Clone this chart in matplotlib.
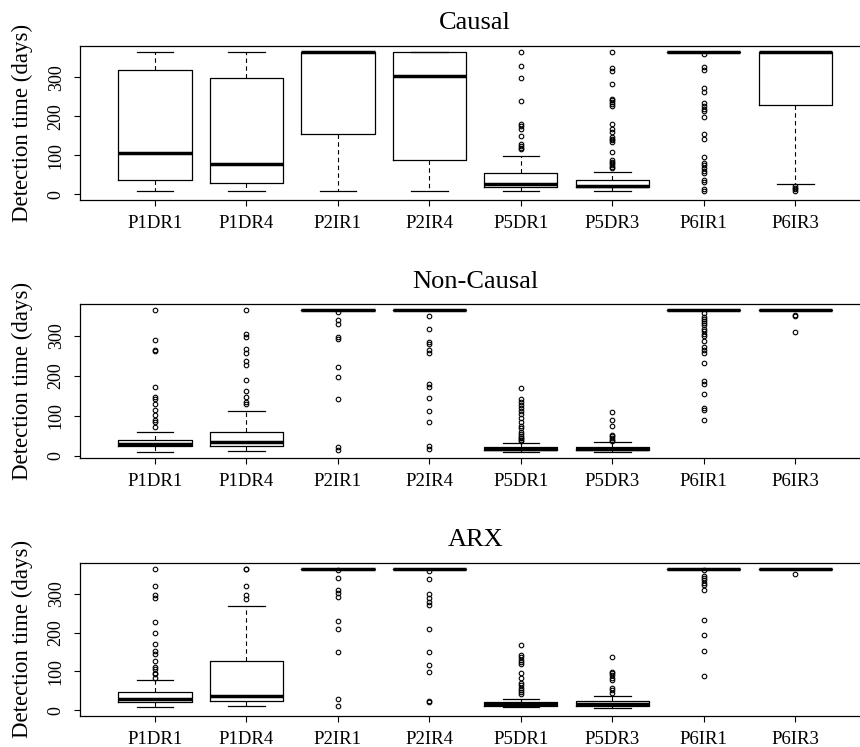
import matplotlib.pyplot as plt

plt.rcParams['font.family'] = ['Liberation Serif', 'DejaVu Serif']

LABELS = ["P1DR1", "P1DR4", "P2IR1", "P2IR4", "P5DR1", "P5DR3", "P6IR1", "P6IR3"]

# Causal
causal_whislo = [8, 8, 8, 8, 8, 8, 365, 27]
causal_q1     = [35, 29, 155, 87, 19, 17, 365, 229]
causal_med    = [105, 77, 365, 303, 27, 21, 365, 365]
causal_q3     = [319, 298, 365, 365, 55, 37, 365, 365]
causal_whishi = [365, 365, 365, 365, 98, 57, 365, 365]
causal_fliers = [
    [],
    [],
    [],
    [],
    [365, 330, 299, 238, 181, 175, 168, 148, 128, 123, 119, 116],
    [365, 324, 315, 282, 245, 242, 237, 231, 225, 179, 167, 159, 147, 142,
     138, 134, 107, 87, 83, 79, 75, 70, 66],
    [359, 325, 319, 273, 261, 233, 226, 219, 212, 199, 154, 142, 94, 81,
     74, 66, 59, 53, 36, 31, 13, 9],
    [21, 16, 12, 8],
]

# Non-Causal
noncausal_whislo = [10, 12, 365, 365, 10, 8, 365, 365]
noncausal_q1     = [24, 24, 365, 365, 13, 13, 365, 365]
noncausal_med    = [30, 34, 365, 365, 17, 17, 365, 365]
noncausal_q3     = [38, 59, 365, 365, 22, 22, 365, 365]
noncausal_whishi = [60, 111, 365, 365, 32, 33, 365, 365]
noncausal_fliers = [
    [365, 290, 265, 263, 172, 148, 143, 129, 114, 102, 89, 83, 71],
    [365, 305, 297, 268, 257, 236, 226, 189, 163, 146, 135, 130],
    [360, 340, 330, 297, 292, 223, 196, 143, 21, 13],
    [351, 317, 284, 279, 265, 258, 179, 172, 144, 112, 84, 23, 17],
    [169, 143, 135, 128, 120, 112, 104, 95, 84, 75, 68, 58, 53, 49, 45,
     43, 39, 36],
    [108, 88, 75, 52, 48, 43, 39, 36],
    [357, 348, 343, 338, 333, 328, 317, 311, 305, 300, 286, 271, 265, 257,
     233, 188, 180, 154, 120, 113, 89],
    [353, 349, 309],
]

# ARX
arx_whislo = [8, 10, 365, 365, 8, 6, 365, 365]
arx_q1     = [22, 24, 365, 365, 10, 12, 365, 365]
arx_med    = [30, 36, 365, 365, 15, 16, 365, 365]
arx_q3     = [46, 126, 365, 365, 21, 24, 365, 365]
arx_whishi = [78, 268, 365, 365, 30, 37, 365, 365]
arx_fliers = [
    [365, 320, 296, 288, 227, 198, 170, 153, 146, 126, 112, 105, 97, 92, 83],
    [365, 365, 320, 296, 287],
    [360, 340, 309, 301, 292, 231, 210, 150, 28, 11],
    [358, 338, 299, 290, 280, 272, 208, 151, 117, 98, 24, 20],
    [168, 142, 136, 129, 124, 119, 95, 82, 70, 64, 56, 51, 47, 42],
    [138, 99, 95, 90, 84, 79, 58, 52, 45],
    [361, 346, 340, 335, 329, 323, 309, 232, 194, 152, 87],
    [352],
]

YTICKS = [0, 100, 200, 300]


def make_stats(whislo, q1, med, q3, whishi, fliers):
    stats = []
    for i in range(len(LABELS)):
        stats.append(dict(label=LABELS[i], whislo=whislo[i], q1=q1[i],
                          med=med[i], q3=q3[i], whishi=whishi[i],
                          fliers=fliers[i]))
    return stats


panels = [
    ("Causal", make_stats(causal_whislo, causal_q1, causal_med, causal_q3,
                          causal_whishi, causal_fliers),
     (-15, 380), [0.093, 0.7323, 0.919, 0.2061]),
    ("Non-Causal", make_stats(noncausal_whislo, noncausal_q1, noncausal_med,
                              noncausal_q3, noncausal_whishi, noncausal_fliers),
     (-6, 379), [0.093, 0.3869, 0.919, 0.2057]),
    ("ARX", make_stats(arx_whislo, arx_q1, arx_med, arx_q3, arx_whishi,
                       arx_fliers),
     (-15, 380), [0.093, 0.0415, 0.919, 0.2052]),
]

fig = plt.figure(figsize=(8.6, 7.47), dpi=100)

for title, stats, ylim, rect in panels:
    ax = fig.add_axes(rect)
    ax.bxp(stats, positions=range(1, len(LABELS) + 1), widths=0.8,
           capwidths=0.4, showfliers=True,
           boxprops=dict(color="black", linewidth=0.9),
           whiskerprops=dict(color="black", linewidth=0.8,
                             linestyle=(0, (4, 3))),
           capprops=dict(color="black", linewidth=0.9),
           medianprops=dict(color="black", linewidth=2.5,
                            solid_capstyle="butt"),
           flierprops=dict(marker="o", markerfacecolor="none",
                           markeredgecolor="black", markersize=3.3,
                           markeredgewidth=0.8, linestyle="none"))
    ax.set_xlim(0.18, 8.82)
    ax.set_ylim(*ylim)
    ax.set_yticks(YTICKS)
    ax.set_yticklabels([str(t) for t in YTICKS], rotation=90, va="center")
    ax.set_xticks(range(1, len(LABELS) + 1))
    ax.set_xticklabels(LABELS)
    ax.tick_params(axis="x", direction="out", length=4, width=0.8,
                   pad=7, labelsize=13.5)
    ax.tick_params(axis="y", direction="out", length=4, width=0.8,
                   pad=7, labelsize=13)
    for s in ax.spines.values():
        s.set_linewidth(0.9)
    ax.spines["right"].set_visible(False)
    ax.set_title(title, fontsize=19, pad=12)
    ax.set_ylabel("Detection time (days)", fontsize=16.5)
    ax.yaxis.label.set_va("center")
    ax.yaxis.set_label_coords(-0.073, 0.5)

fig.savefig("out.png", dpi=100)
